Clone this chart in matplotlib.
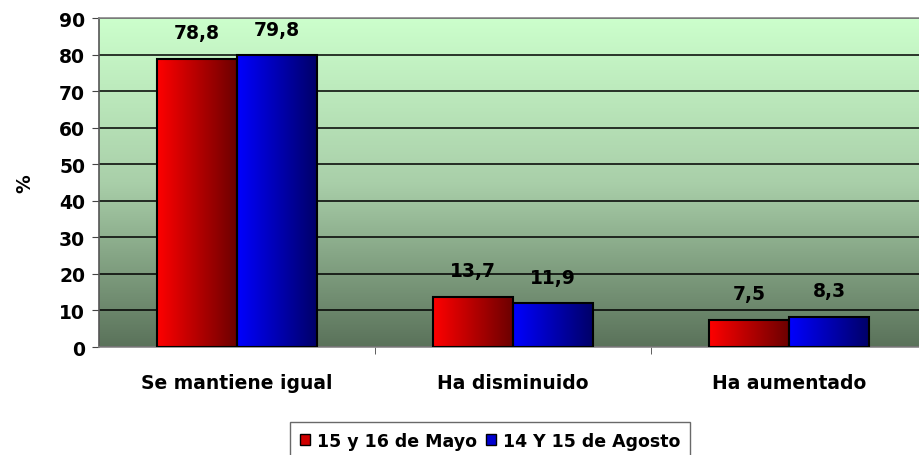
import numpy as np
import matplotlib.pyplot as plt
from matplotlib.colors import LinearSegmentedColormap
from matplotlib.patches import Patch

# === Dati ===
categorias = ["Se mantiene igual", "Ha disminuido", "Ha aumentado"]
mayo = [78.8, 13.7, 7.5]
agosto = [79.8, 11.9, 8.3]
series = ["15 y 16 de Mayo", "14 Y 15 de Agosto"]
etiquetas_mayo = ["78,8", "13,7", "7,5"]
etiquetas_agosto = ["79,8", "11,9", "8,3"]

plt.rcParams['font.family'] = ['DejaVu Sans']
plt.rcParams['font.weight'] = 'bold'
FS = 13.5

fig = plt.figure(figsize=(9.19, 4.56), dpi=100)
ax = fig.add_axes([99 / 919, 1 - 348 / 456, 828 / 919, (348 - 19) / 456])

# fondo degradado verde
fondo = LinearSegmentedColormap.from_list("fondo", ["#5a725a", "#a9cfa9", "#ccffcc"])
grad = np.linspace(0, 1, 256).reshape(-1, 1)
ax.imshow(grad, cmap=fondo, origin="lower", aspect="auto",
          extent=[0, 1, 0, 1], transform=ax.transAxes, zorder=0)

x = np.arange(len(categorias))
w = 0.29

# griglia orizzontale
ax.set_ylim(0, 90)
ax.set_yticks(range(0, 91, 10))
ax.grid(axis='y', color='black', linewidth=1.1, zorder=1)
ax.set_axisbelow(True)

rojo = LinearSegmentedColormap.from_list("rojo", ["#ff0000", "#6a0000"])
azul = LinearSegmentedColormap.from_list("azul", ["#0000ff", "#000066"])
hgrad = np.linspace(0, 1, 256).reshape(1, -1)

def barras_degradado(pos, vals, cmap):
    bars = ax.bar(pos, vals, w, color='none', edgecolor='black', linewidth=1.5, zorder=3)
    for b in bars:
        x0, y0 = b.get_x(), b.get_y()
        im = ax.imshow(hgrad, cmap=cmap, aspect='auto', zorder=2,
                       extent=[x0, x0 + b.get_width(), y0, y0 + b.get_height()])
        im.set_clip_path(b)
    return bars

b1 = barras_degradado(x - w / 2, mayo, rojo)
b2 = barras_degradado(x + w / 2, agosto, azul)

for bars, labs in [(b1, etiquetas_mayo), (b2, etiquetas_agosto)]:
    for b, t in zip(bars, labs):
        ax.annotate(t, (b.get_x() + b.get_width() / 2, b.get_height()),
                    xytext=(0, 12), textcoords='offset points',
                    ha='center', va='bottom', fontsize=FS, fontweight='bold')

ax.set_xlim(-0.5, 2.5)
ax.set_xticks(x)
ax.set_xticklabels(categorias, fontsize=FS, fontweight='bold')
ax.tick_params(axis='x', which='major', length=0, pad=19)
ax.set_xticks([0.5, 1.5], minor=True)
ax.tick_params(axis='x', which='minor', length=5, direction='out', color='#444444')
ax.tick_params(axis='y', length=5, direction='out', labelsize=FS, color='#444444', pad=5)
for lab in ax.get_yticklabels():
    lab.set_fontweight('bold')

for s in ax.spines.values():
    s.set_color('#888888')
    s.set_linewidth(1.2)
ax.spines['left'].set_color('#555555')

ax.set_ylabel("%", fontsize=FS, fontweight='bold', labelpad=18)

handles = [Patch(facecolor='#d00000', edgecolor='black'),
           Patch(facecolor='#0000d0', edgecolor='black')]
leg = fig.legend(handles, series, loc='upper center', bbox_to_anchor=(490 / 919, 1 - 423 / 456),
                 ncol=2, frameon=True, fancybox=False,
                 prop={'weight': 'bold', 'size': 12.5},
                 handlelength=0.6, handleheight=0.6, handletextpad=0.4,
                 columnspacing=0.5, borderpad=0.55, borderaxespad=0)
leg.get_frame().set_edgecolor('#444444')
leg.get_frame().set_linewidth(1.0)

plt.savefig("out.png", dpi=100)
